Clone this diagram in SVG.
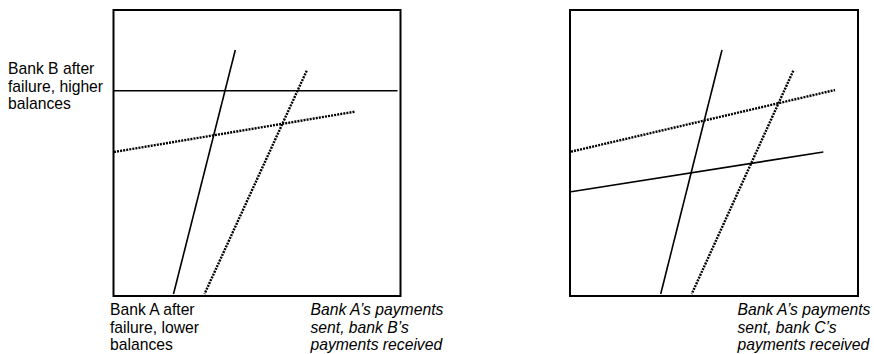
<svg xmlns="http://www.w3.org/2000/svg" width="874" height="354" viewBox="0 0 874 354">
<style>
.box{fill:none;stroke:#000;stroke-width:2}
.solid{stroke:#000;stroke-width:1.6;fill:none}
.dot{stroke:#000;stroke-width:2.4;stroke-dasharray:2 1.1;fill:none}
text{font-family:"Liberation Sans",Arial,sans-serif;font-size:15.7px;fill:#000}
.it{font-style:italic}
</style>
<rect width="874" height="354" fill="#fff"/>
<g id="panel-left">
<rect class="box" x="113.5" y="10" width="287" height="286"/>
</g>
<g id="panel-right">
<rect class="box" x="570" y="10" width="288" height="286"/>
</g>
<g id="connectors">
<line class="solid" x1="235.3" y1="50" x2="173.5" y2="294"/>
<line class="dot" x1="306.7" y1="70.7" x2="204.5" y2="294"/>
<line class="solid" x1="114" y1="90.7" x2="397.5" y2="90.7"/>
<line class="dot" x1="114" y1="152" x2="354.7" y2="111.7"/>
<line class="solid" x1="722" y1="50" x2="660.7" y2="294"/>
<line class="dot" x1="793.3" y1="70.7" x2="691.7" y2="294"/>
<line class="dot" x1="571" y1="151.7" x2="835" y2="90"/>
<line class="solid" x1="571" y1="191.7" x2="823.3" y2="152"/>
</g>
<g id="label-bankB">
<text x="8" y="74">Bank B after</text>
<text x="8" y="91.5">failure, higher</text>
<text x="8" y="109">balances</text>
</g>
<g id="label-bankA">
<text x="110" y="315">Bank A after</text>
<text x="110" y="332.5">failure, lower</text>
<text x="110" y="350">balances</text>
</g>
<g id="label-axis-left">
<text class="it" x="310.5" y="315">Bank A’s payments</text>
<text class="it" x="310.5" y="332.5">sent, bank B’s</text>
<text class="it" x="310.5" y="350">payments received</text>
</g>
<g id="label-axis-right">
<text class="it" x="737.5" y="315">Bank A’s payments</text>
<text class="it" x="737.5" y="332.5">sent, bank C’s</text>
<text class="it" x="737.5" y="350">payments received</text>
</g>
</svg>
